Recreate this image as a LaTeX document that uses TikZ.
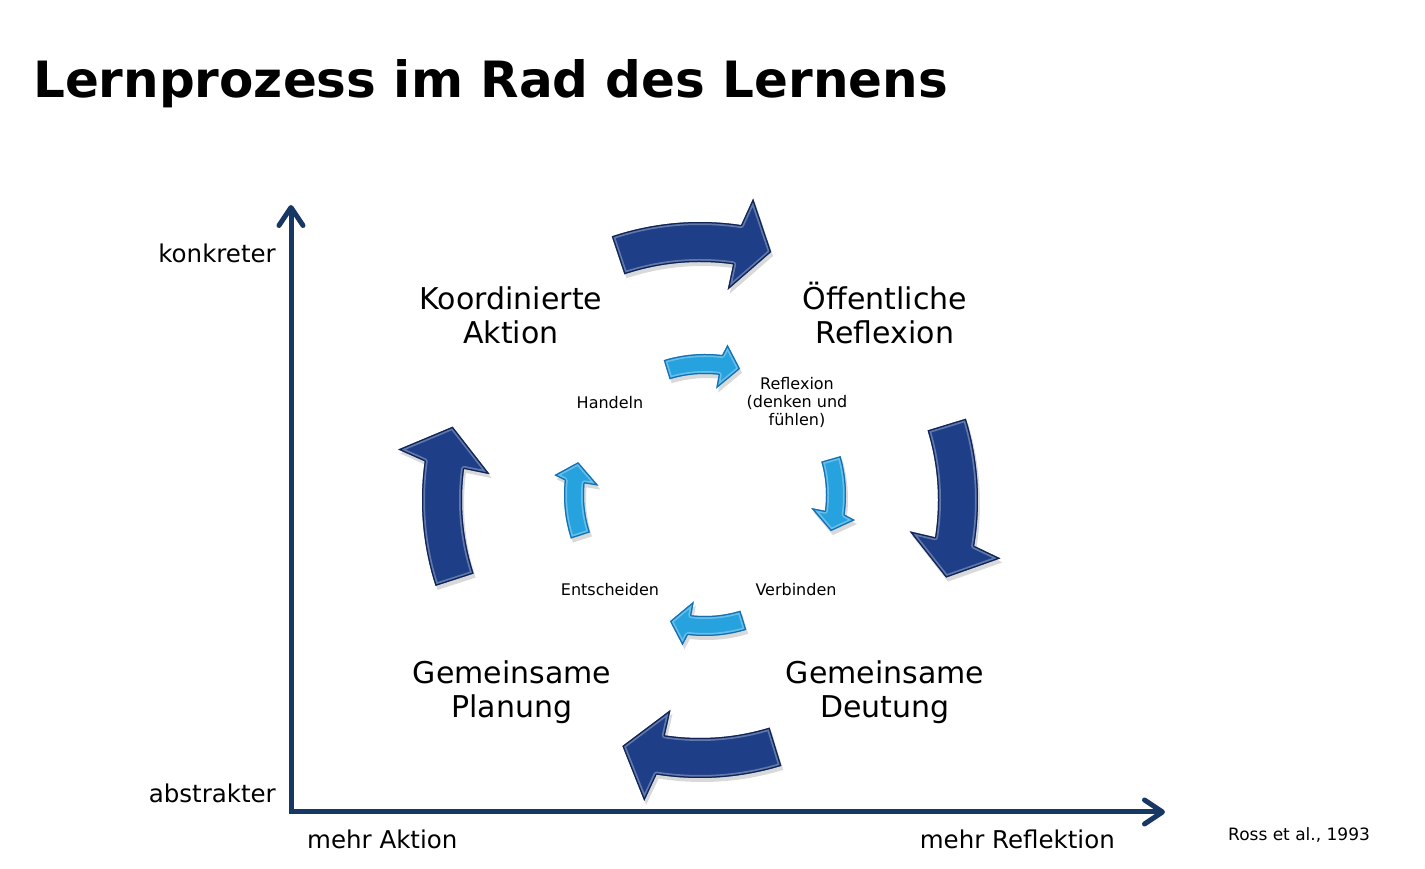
\documentclass[tikz,border=0pt]{standalone}
\usepackage{fontspec}
\setmainfont{DejaVu Sans}
\usetikzlibrary{arrows.meta}
\definecolor{axisblue}{RGB}{23,55,100}
\definecolor{darkfill}{RGB}{30,62,135}
\definecolor{darkedge}{RGB}{16,36,86}
\definecolor{lightfill}{RGB}{38,162,222}
\definecolor{lightedge}{RGB}{20,112,180}
% #1 centre, #2 tail angle, #3 head-base angle, #4 tip angle, #5 mid radius,
% #6 half body width, #7 head inner radius, #8 head outer radius, #9 colour prefix
\newcommand{\warrow}[9]{%
  \def\arrpath{({#2}:{#5+#6}) arc[start angle={#2}, end angle={#3}, radius={#5+#6}]
    -- ({#3-1.5}:{#8}) -- ({#4}:{#5}) -- ({#3+1}:{#7}) -- ({#3+0.5}:{#5-#6})
    arc[start angle={#3+0.5}, end angle={#2}, radius={#5-#6}] -- cycle}%
  \begin{scope}[shift={#1}]
    \fill[black, opacity=0.15, shift={(2,-4)}] \arrpath;
    \fill[#9fill] \arrpath;
    \begin{scope}
      \clip \arrpath;
      \draw[white, opacity=0.3, line width=6pt, line join=round] \arrpath;
      \draw[#9edge, line width=2.5pt, line join=round] \arrpath;
    \end{scope}
  \end{scope}}
\tikzset{
  biglab/.style={font=\fontsize{30}{34}\selectfont, align=center, inner sep=0, anchor=base},
  smalllab/.style={font=\fontsize{16}{18}\selectfont, align=center, inner sep=0, anchor=base},
  axislab/.style={font=\fontsize{24.5}{28}\selectfont, inner sep=0},
  axisline/.style={axisblue, line width=5pt, {Straight Barb[length=18pt, width=24pt, round]}-{Straight Barb[length=18pt, width=24pt, round]}}
}
\begin{document}
\begin{tikzpicture}[x=1pt, y=1pt]
\fill[white] (0,0) rectangle (1425,869);
\useasboundingbox (0,0) rectangle (1425,869);

\node[font=\fontsize{50}{60}\selectfont\bfseries, anchor=base west, inner sep=0] (title) at (33,771) {Lernprozess im Rad des Lernens};

% axes
\coordinate (ytop) at (291,664);
\coordinate (origin) at (291,57);
\coordinate (xend) at (1165,57);
\draw[axisline] (ytop) -- (origin) -- (xend);

\node[axislab, anchor=base east] (konkret) at (276,606) {konkreter};
\node[axislab, anchor=base east] (abstrakt) at (276,66) {abstrakter};
\node[axislab, anchor=base west] (aktion) at (307,20) {mehr Aktion};
\node[axislab, anchor=base east] (reflektion) at (1115,20) {mehr Reflektion};
\node[font=\fontsize{17}{20}\selectfont, anchor=base west, inner sep=0] (ross) at (1228,28) {Ross et al., 1993};

% outer wheel
\warrow{(700,369)}{108.5}{81.5}{74}{258}{20}{212}{306}{dark}
\warrow{(700,369)}{17}{-9.5}{-17.5}{258}{20}{212}{306}{dark}
\warrow{(700,369)}{-73}{-99}{-107.5}{258}{20}{212}{306}{dark}
\warrow{(700,369)}{198}{172}{163.5}{258}{20}{212}{306}{dark}

% inner wheel
\warrow{(705,374)}{107}{83}{74.5}{131}{10}{107}{152}{light}
\warrow{(705,374)}{16}{-8}{-16}{131}{10}{107}{152}{light}
\warrow{(705,374)}{-73}{-97}{-105.5}{131}{10}{107}{152}{light}
\warrow{(705,374)}{198}{174}{165.5}{131}{10}{107}{152}{light}

\node[biglab] (koord) at (511,525) {Koordinierte\\Aktion};
\node[biglab] (oeff) at (885,525) {Öffentliche\\Reflexion};
\node[biglab] (planung) at (512,151) {Gemeinsame\\Planung};
\node[biglab] (deutung) at (885,151) {Gemeinsame\\Deutung};

\node[smalllab] (handeln) at (610,460) {Handeln};
\node[smalllab] (reflexion) at (797,443) {Reflexion\\(denken und\\fühlen)};
\node[smalllab] (entscheiden) at (610,273) {Entscheiden};
\node[smalllab] (verbinden) at (796,273) {Verbinden};
\end{tikzpicture}
\end{document}
